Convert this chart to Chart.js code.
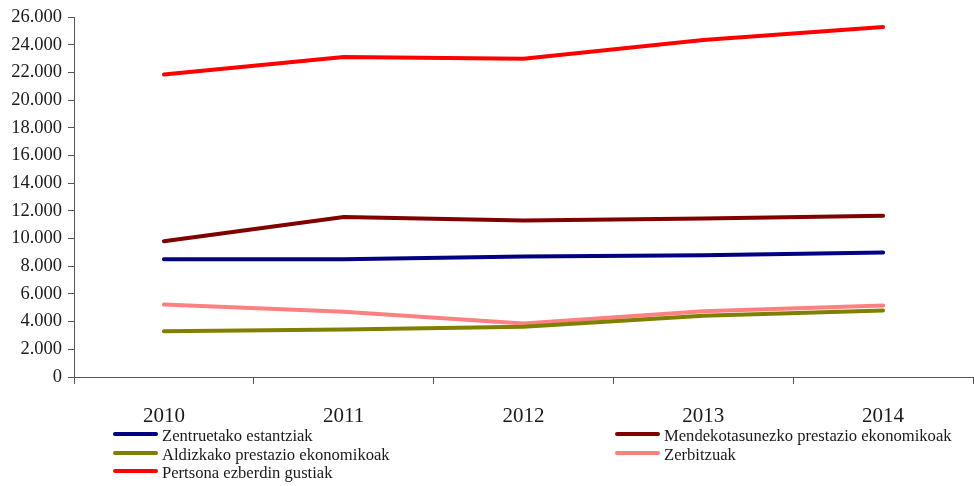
<!DOCTYPE html>
<html>
<head>
<meta charset="utf-8">
<script src="https://cdn.jsdelivr.net/npm/chart.js@4"></script>
<style>
	body { margin: 0; background: #fff; }
	#wrap { position: relative; width: 974px; height: 486px; }
	#legend { position: absolute; left: 113px; top: 426px; width: 860px; font-family: 'Liberation Serif', serif; font-size: 16.6px; color: #1a1a1a; }
	#legend div.item { position: absolute; white-space: nowrap; line-height: 19px; padding-left: 49px; }
	#legend span.swatch { position: absolute; left: 0; top: 6px; width: 45px; height: 4px; border-radius: 2px; }
</style>
</head>
<body>
<div id="wrap">
	<canvas id="chart"></canvas>
	<div id="legend"></div>
</div>
<script>
// Chart data
const years = ['2010', '2011', '2012', '2013', '2014'];
const zentruetako = [8500, 8500, 8700, 8800, 9000];
const mendekotasunezko = [9800, 11550, 11300, 11450, 11650];
const aldizkako = [3300, 3430, 3630, 4420, 4810];
const zerbitzuak = [5240, 4720, 3870, 4750, 5160];
const pertsonak = [21850, 23120, 23000, 24350, 25280];

const seriesNames = [
	'Zentruetako estantziak',
	'Mendekotasunezko prestazio ekonomikoak',
	'Aldizkako prestazio ekonomikoak',
	'Zerbitzuak',
	'Pertsona ezberdin gustiak'
];
const seriesValues = [zentruetako, mendekotasunezko, aldizkako, zerbitzuak, pertsonak];
const seriesColors = ['#000080', '#800000', '#808000', '#FF8080', '#FF0000'];

const yMax = 26000;
const yStep = 2000;

function formatThousands(v) {
	return String(v).replace(/\B(?=(\d{3})+(?!\d))/g, '.');
}

const axisColor = '#555';
const textColor = '#1a1a1a';

const ctx = document.getElementById('chart').getContext('2d');
const chart = new Chart(ctx, {
	type: 'line',
	data: {
		labels: years,
		datasets: seriesNames.map((name, i) => ({
			label: name,
			data: seriesValues[i],
			borderColor: seriesColors[i],
			backgroundColor: seriesColors[i],
			borderWidth: 4,
			borderCapStyle: 'round',
			pointRadius: 0,
			tension: 0,
			fill: false
		}))
	},
	options: {
		responsive: true,
		maintainAspectRatio: false,
		animation: false,
		layout: { padding: { top: 14, right: 1, bottom: 0, left: 0 } },
		plugins: {
			legend: { display: false },
			tooltip: { enabled: false }
		},
		scales: {
			x: {
				offset: true,
				grid: {
					offset: true,
					drawOnChartArea: false,
					drawTicks: true,
					tickLength: 7,
					color: axisColor
				},
				border: { color: axisColor, width: 1 },
				ticks: {
					color: textColor,
					padding: 20,
					font: { family: 'Liberation Serif', size: 21 }
				},
				afterFit: function(scale) { scale.height = 109; }
			},
			y: {
				min: 0,
				max: yMax,
				grid: {
					drawOnChartArea: false,
					drawTicks: true,
					tickLength: 6,
					color: axisColor
				},
				border: { color: axisColor, width: 1 },
				ticks: {
					stepSize: yStep,
					color: textColor,
					padding: 6,
					font: { family: 'Liberation Serif', size: 18.5 },
					callback: function(v) { return formatThousands(v); }
				},
				afterFit: function(scale) { scale.width = 74; }
			}
		}
	}
});

// Legend in two columns, row-major order
const legendEl = document.getElementById('legend');
seriesNames.forEach((name, i) => {
	const item = document.createElement('div');
	item.className = 'item';
	item.style.left = (i % 2 === 0 ? 0 : 502) + 'px';
	item.style.top = (Math.floor(i / 2) * 18.7) + 'px';
	item.innerHTML = '<span class="swatch" style="background:' + seriesColors[i] + '"></span>' + name;
	legendEl.appendChild(item);
});
</script>
</body>
</html>
